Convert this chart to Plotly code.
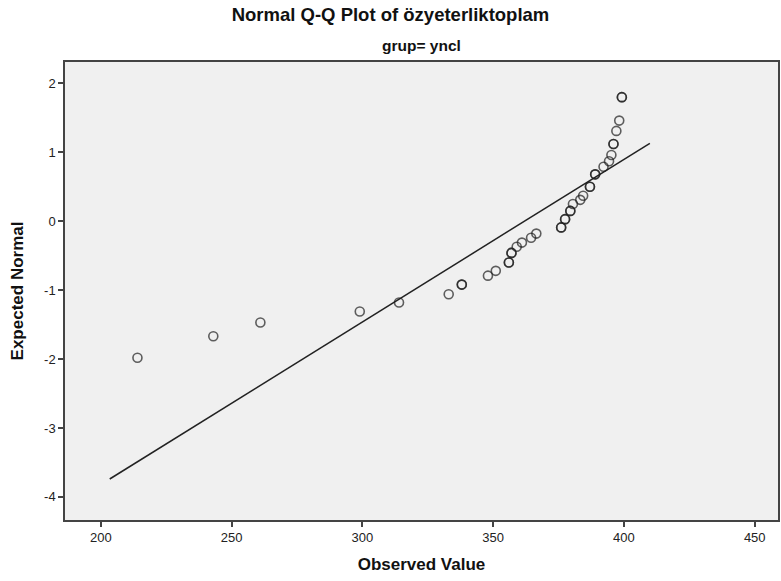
import plotly.graph_objects as go

observed = [214, 243, 261, 299, 314, 333, 338, 338, 348, 351, 356, 356, 357, 357,
            359, 361, 364.5, 366.5, 376, 376, 377.5, 377.5, 379.5, 379.5, 380.5, 383.3,
            384.4, 387, 387, 389, 389, 392.2, 394.3, 395.2, 396, 396, 397.1, 398.2,
            399.2, 399.2]
expected = [-1.98, -1.67, -1.47, -1.31, -1.18, -1.06, -0.92, -0.92, -0.79, -0.72,
            -0.60, -0.60, -0.46, -0.46, -0.37, -0.31, -0.24, -0.18, -0.09, -0.09,
            0.03, 0.03, 0.15, 0.15, 0.25, 0.31, 0.37, 0.50, 0.50, 0.68, 0.68, 0.79,
            0.87, 0.96, 1.12, 1.12, 1.31, 1.46, 1.80, 1.80]

# Reference line endpoints
line_x = [203.4, 409.9]
line_y = [-3.74, 1.13]

x_ticks = [200, 250, 300, 350, 400, 450]
y_ticks = [-4, -3, -2, -1, 0, 1, 2]
y_tick_labels = ["-4", "-3", "-2", "-1", "0", "1", "2"]

FONT = "Liberation Sans, Arial, sans-serif"

fig = go.Figure()
fig.add_trace(go.Scatter(
    x=line_x, y=line_y, mode="lines",
    line=dict(color="#222222", width=1.5),
    hoverinfo="skip", showlegend=False))
fig.add_trace(go.Scatter(
    x=observed, y=expected, mode="markers",
    marker=dict(symbol="circle-open", size=9, color="rgba(30,30,30,0.7)",
                line=dict(width=1.6)),
    showlegend=False))

fig.update_layout(
    width=781, height=581,
    margin=dict(l=65, r=1, t=62, b=61),
    paper_bgcolor="white", plot_bgcolor="#F0F0F0",
    font=dict(family=FONT, color="#222222", size=13),
    title=dict(text="<b>Normal Q-Q Plot of özyeterliktoplam</b>",
               x=0.5, xanchor="center", y=1 - 15 / 581, yanchor="middle",
               font=dict(size=18.5, family=FONT, color="#111111")),
    annotations=[dict(text="<b>grup= yncl</b>", xref="paper", yref="paper",
                      x=0.5, y=(581 - 46 - 61) / (581 - 62 - 61), xanchor="center",
                      yanchor="middle", showarrow=False,
                      font=dict(size=15.5, family=FONT, color="#111111"))],
    xaxis=dict(range=[186.3, 458.9], tickvals=x_ticks, ticks="outside", ticklen=5,
               tickwidth=1.5, tickcolor="#444444", showgrid=False, zeroline=False,
               showline=True, linecolor="#444444", linewidth=1.5, mirror=True,
               tickfont=dict(size=13, color="#222222"),
               title=dict(text="<b>Observed Value</b>", standoff=14,
                          font=dict(size=17, color="#111111"))),
    yaxis=dict(range=[-4.335, 2.31], tickvals=y_ticks, ticktext=y_tick_labels,
               ticks="outside", ticklen=5,
               tickwidth=1.5, tickcolor="#444444", showgrid=False, zeroline=False,
               showline=True, linecolor="#444444", linewidth=1.5, mirror=True,
               tickfont=dict(size=13, color="#222222"),
               title=dict(text="<b>Expected Normal</b>", standoff=16,
                          font=dict(size=17, color="#111111"))),
)

fig.write_html("out.html")
